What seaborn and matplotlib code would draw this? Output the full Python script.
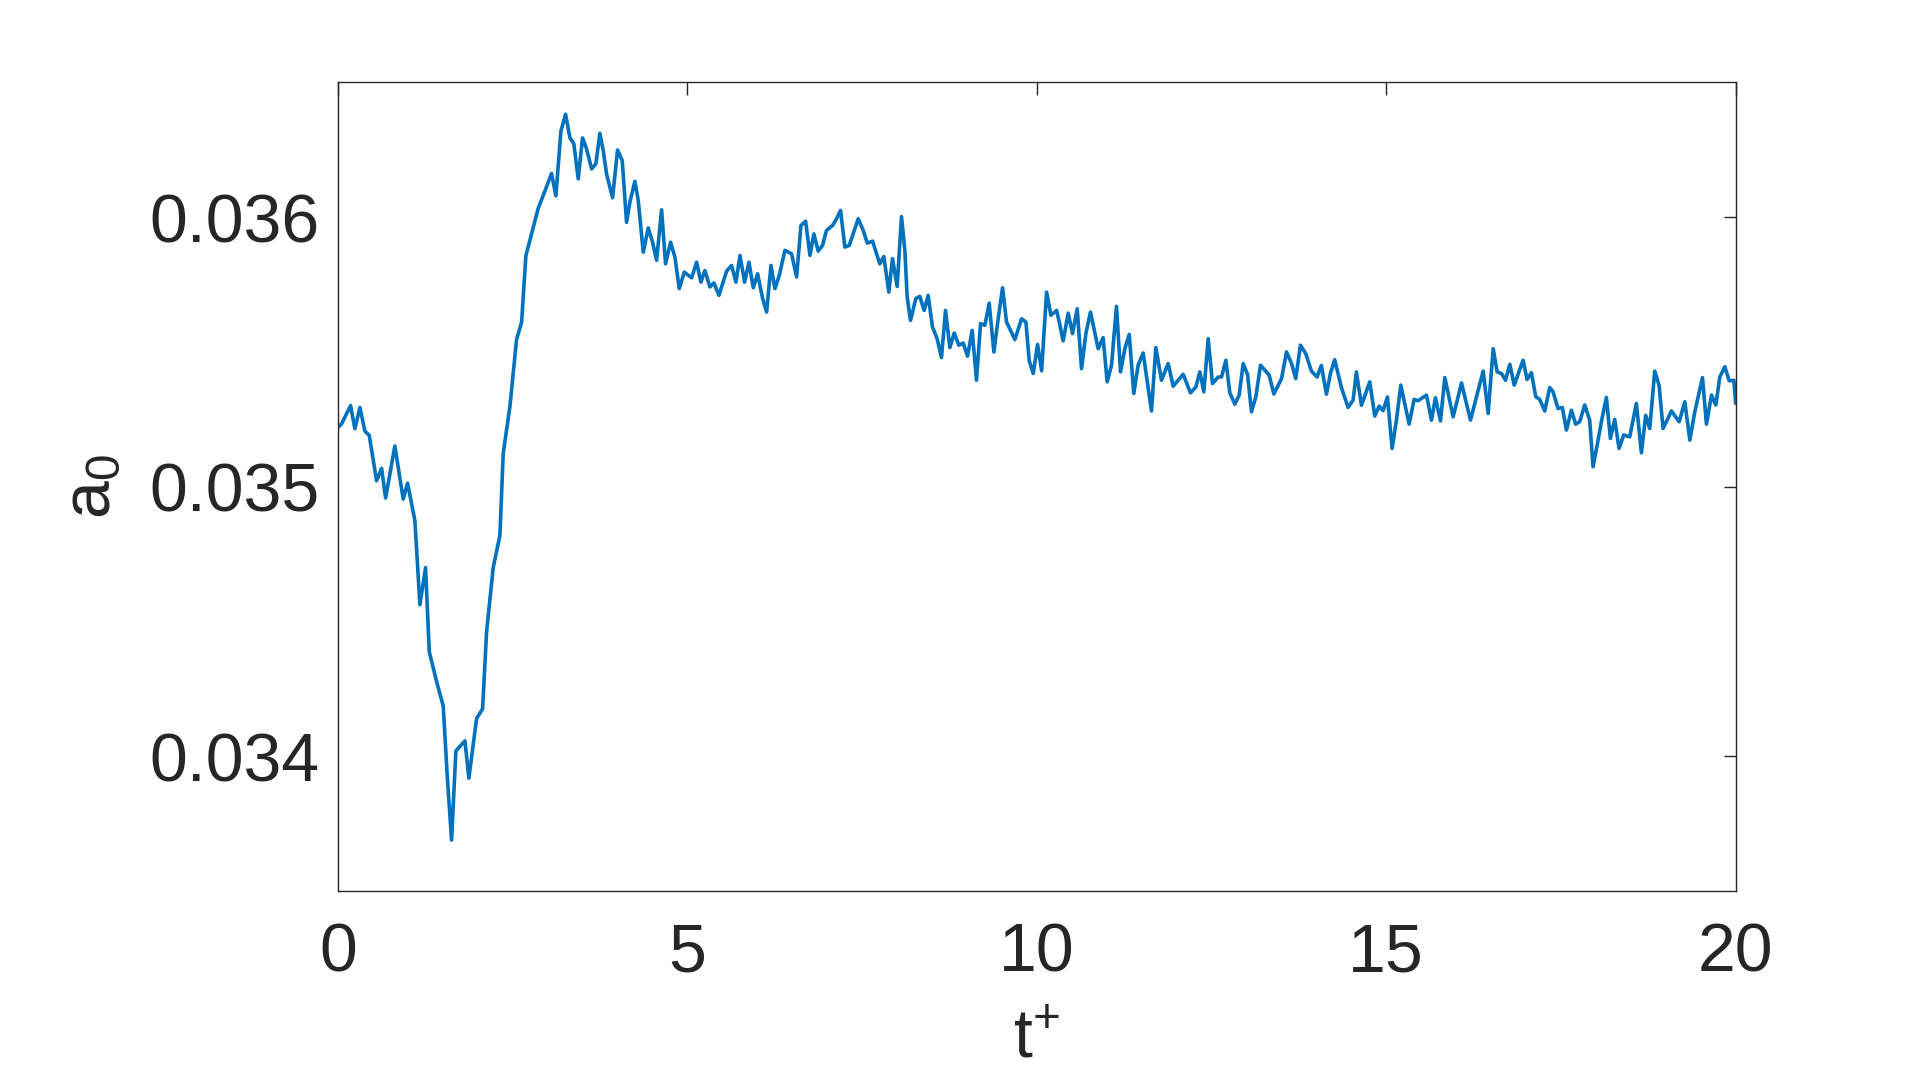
import numpy as np
import pandas as pd
import seaborn as sns
import matplotlib
matplotlib.use("Agg")
import matplotlib.pyplot as plt

# values
t_plus = [0.0, 0.052, 0.181, 0.243, 0.315, 0.386, 0.448, 0.553, 0.625, 0.682, 0.815,
          0.934, 0.996, 1.101, 1.173, 1.254, 1.307, 1.411, 1.507, 1.564, 1.626, 1.688,
          1.817, 1.874, 1.984, 2.070, 2.127, 2.222, 2.318, 2.365, 2.461, 2.556, 2.628,
          2.690, 2.866, 2.962, 3.057, 3.119, 3.190, 3.257, 3.319, 3.376, 3.438, 3.500,
          3.558, 3.630, 3.691, 3.748, 3.796, 3.844, 3.930, 4.001, 4.068, 4.130, 4.178,
          4.249, 4.297, 4.369, 4.440, 4.502, 4.560, 4.631, 4.688, 4.760, 4.822, 4.884,
          4.956, 5.061, 5.132, 5.194, 5.251, 5.323, 5.380, 5.452, 5.562, 5.633, 5.695,
          5.753, 5.819, 5.881, 5.943, 6.005, 6.077, 6.134, 6.196, 6.253, 6.315, 6.396,
          6.491, 6.563, 6.625, 6.692, 6.754, 6.810, 6.872, 6.934, 6.991, 7.077, 7.134,
          7.192, 7.254, 7.316, 7.445, 7.516, 7.574, 7.650, 7.753, 7.811, 7.883, 7.935,
          8.002, 8.064, 8.112, 8.145, 8.193, 8.269, 8.326, 8.388, 8.445, 8.507, 8.574,
          8.636, 8.694, 8.756, 8.818, 8.885, 8.947, 9.009, 9.075, 9.137, 9.195, 9.257,
          9.319, 9.386, 9.438, 9.510, 9.567, 9.686, 9.782, 9.844, 9.892, 9.949, 10.011,
          10.069, 10.140, 10.202, 10.283, 10.321, 10.377, 10.449, 10.511, 10.578, 10.640,
          10.702, 10.768, 10.878, 10.949, 11.007, 11.069, 11.140, 11.198, 11.260, 11.322,
          11.388, 11.450, 11.522, 11.641, 11.703, 11.784, 11.880, 11.951, 12.094, 12.199,
          12.276, 12.333, 12.390, 12.452, 12.514, 12.595, 12.643, 12.705, 12.762, 12.834,
          12.896, 12.953, 13.015, 13.072, 13.134, 13.201, 13.325, 13.392, 13.502, 13.573,
          13.645, 13.705, 13.772, 13.848, 13.929, 14.010, 14.072, 14.144, 14.201, 14.263,
          14.358, 14.454, 14.526, 14.573, 14.645, 14.764, 14.836, 14.898, 14.955, 15.017,
          15.084, 15.146, 15.208, 15.327, 15.399, 15.456, 15.576, 15.647, 15.704, 15.776,
          15.838, 15.957, 16.077, 16.205, 16.387, 16.458, 16.530, 16.587, 16.649, 16.707,
          16.769, 16.831, 16.958, 17.015, 17.077, 17.139, 17.196, 17.268, 17.339, 17.387,
          17.458, 17.520, 17.578, 17.649, 17.711, 17.768, 17.840, 17.911, 17.959, 18.021,
          18.078, 18.150, 18.207, 18.269, 18.331, 18.398, 18.484, 18.579, 18.651, 18.713,
          18.770, 18.842, 18.904, 18.961, 19.081, 19.191, 19.272, 19.344, 19.415, 19.525,
          19.582, 19.654, 19.716, 19.773, 19.845, 19.907, 19.974, 20.0]

a0 = [0.035220, 0.035233, 0.035301, 0.035215, 0.035294, 0.035206, 0.035191, 0.035022,
      0.035068, 0.034958, 0.035151, 0.034954, 0.035013, 0.034875, 0.034562, 0.034700,
      0.034388, 0.034278, 0.034186, 0.033928, 0.033689, 0.034020, 0.034057, 0.033919,
      0.034140, 0.034176, 0.034461, 0.034700, 0.034820, 0.035123, 0.035298, 0.035546,
      0.035610, 0.035858, 0.036033, 0.036097, 0.036162, 0.036079, 0.036318, 0.036382,
      0.036295, 0.036272, 0.036142, 0.036294, 0.036253, 0.036179, 0.036198, 0.036311,
      0.036247, 0.036160, 0.036072, 0.036249, 0.036210, 0.035981, 0.036056, 0.036133,
      0.036062, 0.035870, 0.035960, 0.035907, 0.035840, 0.036027, 0.035827, 0.035907,
      0.035852, 0.035735, 0.035796, 0.035775, 0.035833, 0.035759, 0.035802, 0.035741,
      0.035756, 0.035710, 0.035800, 0.035821, 0.035759, 0.035858, 0.035759, 0.035833,
      0.035738, 0.035790, 0.035698, 0.035648, 0.035821, 0.035735, 0.035784, 0.035877,
      0.035864, 0.035778, 0.035969, 0.035985, 0.035858, 0.035938, 0.035874, 0.035895,
      0.035951, 0.035969, 0.035994, 0.036025, 0.035889, 0.035895, 0.035994, 0.035951,
      0.035904, 0.035911, 0.035827, 0.035854, 0.035722, 0.035846, 0.035743, 0.036002,
      0.035877, 0.035704, 0.035617, 0.035698, 0.035706, 0.035654, 0.035710, 0.035593,
      0.035549, 0.035479, 0.035654, 0.035516, 0.035570, 0.035525, 0.035533, 0.035484,
      0.035580, 0.035395, 0.035605, 0.035599, 0.035681, 0.035500, 0.035605, 0.035738,
      0.035611, 0.035546, 0.035623, 0.035611, 0.035467, 0.035420, 0.035528, 0.035430,
      0.035722, 0.035636, 0.035654, 0.035611, 0.035541, 0.035644, 0.035568, 0.035660,
      0.035438, 0.035568, 0.035648, 0.035512, 0.035553, 0.035389, 0.035451, 0.035669,
      0.035426, 0.035512, 0.035565, 0.035346, 0.035451, 0.035496, 0.035281, 0.035516,
      0.035395, 0.035457, 0.035373, 0.035417, 0.035348, 0.035370, 0.035426, 0.035352,
      0.035549, 0.035383, 0.035407, 0.035407, 0.035469, 0.035348, 0.035306, 0.035340,
      0.035457, 0.035417, 0.035278, 0.035333, 0.035451, 0.035414, 0.035344, 0.035401,
      0.035500, 0.035457, 0.035401, 0.035525, 0.035494, 0.035429, 0.035407, 0.035450,
      0.035343, 0.035420, 0.035471, 0.035368, 0.035294, 0.035321, 0.035426, 0.035302,
      0.035389, 0.035262, 0.035299, 0.035282, 0.035333, 0.035142, 0.035247, 0.035377,
      0.035232, 0.035324, 0.035319, 0.035340, 0.035247, 0.035330, 0.035244, 0.035405,
      0.035259, 0.035385, 0.035247, 0.035429, 0.035272, 0.035512, 0.035426, 0.035420,
      0.035395, 0.035454, 0.035377, 0.035469, 0.035398, 0.035423, 0.035334, 0.035324,
      0.035281, 0.035368, 0.035352, 0.035290, 0.035294, 0.035210, 0.035284, 0.035232,
      0.035241, 0.035303, 0.035247, 0.035074, 0.035158, 0.035241, 0.035331, 0.035179,
      0.035250, 0.035142, 0.035192, 0.035185, 0.035309, 0.035126, 0.035265, 0.035216,
      0.035429, 0.035376, 0.035216, 0.035281, 0.035241, 0.035315, 0.035173, 0.035278,
      0.035405, 0.035232, 0.035340, 0.035303, 0.035407, 0.035445, 0.035393, 0.035395,
      0.035309]

x_ticks = [0, 5, 10, 15, 20]
y_ticks = [0.034, 0.035, 0.036]
y_tick_labels = ["0.034", "0.035", "0.036"]

df = pd.DataFrame({"t": t_plus, "a0": a0})

sns.set_style("white")
plt.rcParams["font.family"] = ["Liberation Sans", "DejaVu Sans"]
plt.rcParams["mathtext.default"] = "regular"

fig = plt.figure(figsize=(19.2, 10.84), dpi=100)
ax = fig.add_axes([0.176, 0.178, 0.728, 0.746])

sns.lineplot(data=df, x="t", y="a0", color="#0072BD", linewidth=2.6,
             estimator=None, sort=False, ax=ax)

ax.set_xlim(0, 20)
ax.set_ylim(0.0335, 0.0365)
ax.set_xticks(x_ticks)
ax.set_yticks(y_ticks)
ax.set_yticklabels(y_tick_labels)

for s in ax.spines.values():
    s.set_color("#262626")
    s.set_linewidth(1.0)
ax.tick_params(direction="in", length=9, width=1.0, colors="#262626",
               labelsize=49, top=True, right=True)
ax.tick_params(axis="y", pad=13)
ax.tick_params(axis="x", pad=22)

ax.set_xlabel("$t^{+}$", fontsize=49, color="#262626", labelpad=16)
ax.set_ylabel("$a_{0}$", fontsize=49, color="#262626", labelpad=18)

fig.savefig("out.png", dpi=100)
